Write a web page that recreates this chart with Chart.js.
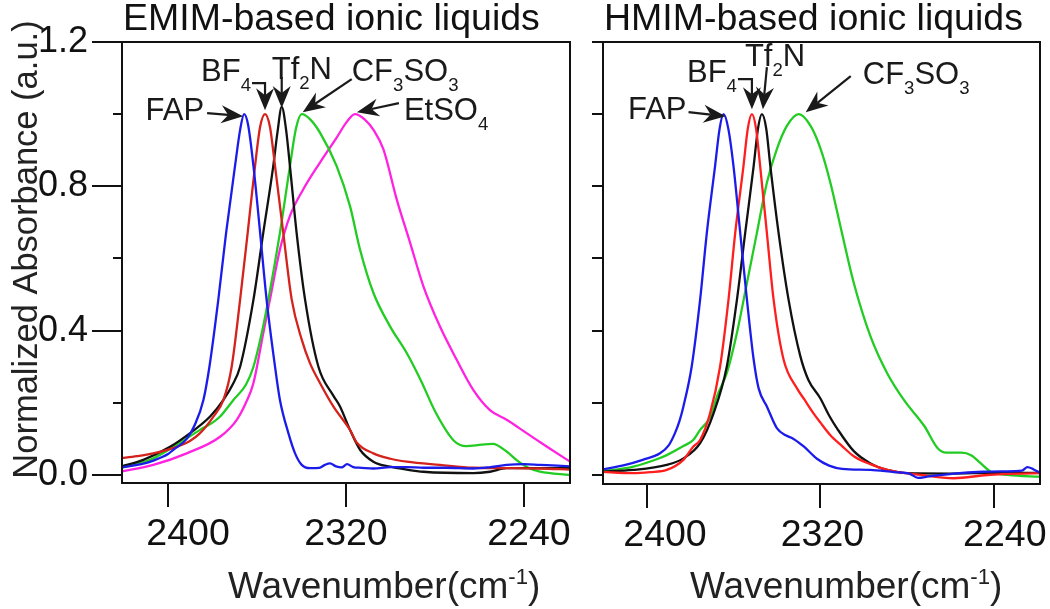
<!DOCTYPE html>
<html>
<head>
<meta charset="utf-8">
<script src="https://cdn.jsdelivr.net/npm/chart.js@4.4.0/dist/chart.umd.min.js"></script>
<style>
  html, body { margin: 0; padding: 0; background: #fff; }
  #wrap { position: relative; width: 1050px; height: 609px; overflow: hidden; }
  canvas { position: absolute; top: 0; }
  #emimChart { left: 0; }
  #hmimChart { left: 572px; }
</style>
</head>
<body>
<div id="wrap">
  <canvas id="emimChart" width="572" height="609"></canvas>
  <canvas id="hmimChart" width="478" height="609"></canvas>
</div>
<script>
// =======================================================
// Données
// =======================================================

const FONT = '"Liberation Sans", Arial, Helvetica, sans-serif';

const xTicks = [2400, 2320, 2240];
const xTickLabels = ['2400', '2320', '2240'];
const yTicks = [0, 0.2, 0.4, 0.6, 0.8, 1.0, 1.2];
const yTickLabels = ['0.0', '', '0.4', '', '0.8', '', '1.2'];

const emimTitle = 'EMIM-based ionic liquids';
const hmimTitle = 'HMIM-based ionic liquids';
const yAxisTitle = 'Normalized Absorbance (a.u.)';
const xAxisTitle = ['Wavenumber(cm', '^-1', ')'];

const anionLabels = {
    FAP: ['FAP'],
    BF4: ['BF', '_4'],
    Tf2N: ['Tf', '_2', 'N'],
    CF3SO3: ['CF', '_3', 'SO', '_3'],
    EtSO4: ['EtSO', '_4']
};

// ---- EMIM ----
const emimFapWn = [2421.5, 2418.6, 2412.0, 2406.6, 2400.0, 2397.6, 2391.6, 2387.9, 2384.1, 2381.4,
                   2377.4, 2373.9, 2369.9, 2367.5, 2365.8, 2364.0, 2361.6, 2358.6, 2355.7, 2351.9,
                   2349.7, 2345.9, 2342.9, 2339.9, 2336.2, 2332.0, 2329.5, 2327.2, 2324.5, 2322.0,
                   2319.5, 2316.8, 2313.0, 2307.7, 2300.0, 2292.7, 2285.0, 2275.0, 2262.8, 2255.0,
                   2247.8, 2240.0, 2232.8, 2225.0, 2219.3];
const emimFapAbs = [0.020, 0.023, 0.030, 0.040, 0.058, 0.070, 0.100, 0.140, 0.208, 0.300,
                    0.486, 0.671, 0.856, 0.960, 1.000, 0.970, 0.856, 0.671, 0.486, 0.300,
                    0.208, 0.116, 0.060, 0.028, 0.019, 0.020, 0.028, 0.032, 0.024, 0.021,
                    0.030, 0.022, 0.020, 0.018, 0.022, 0.022, 0.020, 0.020, 0.018, 0.022,
                    0.028, 0.030, 0.028, 0.026, 0.024];

const emimBf4Wn = [2421.6, 2414.0, 2406.6, 2396.1, 2390.0, 2385.6, 2379.6, 2375.1, 2371.4, 2367.6,
                   2364.2, 2360.9, 2358.6, 2356.4, 2354.2, 2351.9, 2348.2, 2344.4, 2339.9, 2336.2,
                   2331.7, 2325.7, 2318.2, 2315.2, 2307.7, 2300.0, 2292.7, 2277.8, 2262.8, 2247.8,
                   2232.8, 2219.3];
const emimBf4Abs = [0.046, 0.052, 0.060, 0.078, 0.095, 0.116, 0.162, 0.208, 0.300, 0.486,
                    0.671, 0.856, 0.965, 1.000, 0.965, 0.856, 0.671, 0.486, 0.375, 0.310,
                    0.255, 0.190, 0.125, 0.090, 0.060, 0.045, 0.037, 0.028, 0.020, 0.019,
                    0.018, 0.015];

const emimTf2nWn = [2421.6, 2411.1, 2399.1, 2390.1, 2381.1, 2375.1, 2371.0, 2367.6, 2361.6, 2357.2,
                    2352.7, 2350.8, 2348.9, 2347.0, 2345.2, 2342.2, 2338.4, 2332.4, 2325.7, 2322.7,
                    2318.2, 2313.7, 2307.7, 2300.2, 2292.7, 2285.2, 2262.8, 2255.3, 2247.8, 2235.0,
                    2219.3];
const emimTf2nAbs = [0.023, 0.042, 0.078, 0.116, 0.162, 0.208, 0.250, 0.300, 0.486, 0.671,
                     0.856, 0.950, 1.020, 0.960, 0.856, 0.671, 0.486, 0.300, 0.220, 0.190,
                     0.125, 0.070, 0.037, 0.023, 0.015, 0.009, 0.005, 0.009, 0.019, 0.019,
                     0.019];

const emimCf3so3Wn = [2421.6, 2408.1, 2397.6, 2385.6, 2380.0, 2376.6, 2370.6, 2365.0, 2361.6, 2358.0,
                      2354.9, 2349.7, 2345.2, 2342.5, 2339.9, 2336.0, 2331.7, 2324.2, 2318.2, 2313.7,
                      2307.7, 2300.2, 2292.7, 2286.5, 2279.5, 2271.5, 2266.0, 2259.0, 2254.0, 2247.8,
                      2243.0, 2238.0, 2232.8, 2219.3];
const emimCf3so3Abs = [0.019, 0.042, 0.078, 0.125, 0.145, 0.162, 0.208, 0.250, 0.300, 0.390,
                       0.486, 0.671, 0.856, 0.960, 1.000, 0.985, 0.949, 0.856, 0.745, 0.625,
                       0.505, 0.412, 0.338, 0.264, 0.171, 0.095, 0.080, 0.084, 0.086, 0.065,
                       0.040, 0.020, 0.009, 0.000];

const emimEtso4Wn = [2421.6, 2406.6, 2391.6, 2376.6, 2369.1, 2365.0, 2361.6, 2357.2, 2354.2, 2349.7,
                     2345.2, 2339.2, 2331.7, 2324.2, 2319.5, 2316.0, 2311.5, 2307.5, 2303.2, 2297.2,
                     2291.2, 2285.2, 2277.8, 2270.3, 2262.8, 2255.3, 2247.8, 2238.8, 2229.8, 2219.3];
const emimEtso4Abs = [0.009, 0.028, 0.060, 0.106, 0.153, 0.200, 0.255, 0.393, 0.486, 0.625,
                      0.718, 0.792, 0.866, 0.935, 0.980, 1.000, 0.985, 0.955, 0.903, 0.764,
                      0.644, 0.523, 0.412, 0.320, 0.236, 0.180, 0.153, 0.116, 0.079, 0.037];

// ---- HMIM ----
const hmimFapWn = [2421.7, 2410.0, 2402.0, 2394.0, 2390.0, 2387.1, 2385.0, 2383.2, 2379.4, 2375.5,
                   2372.4, 2368.6, 2366.5, 2364.7, 2362.5, 2360.1, 2357.0, 2353.9, 2350.8, 2348.5,
                   2344.7, 2340.1, 2336.0, 2332.4, 2327.7, 2321.6, 2316.0, 2310.0, 2297.0, 2286.0,
                   2279.0, 2275.0, 2270.0, 2258.4, 2245.0, 2235.2, 2227.0, 2224.5, 2221.8, 2218.8];
const hmimFapAbs = [0.014, 0.028, 0.042, 0.060, 0.082, 0.116, 0.150, 0.190, 0.300, 0.486,
                    0.671, 0.856, 0.960, 1.000, 0.960, 0.856, 0.671, 0.486, 0.320, 0.240,
                    0.190, 0.130, 0.110, 0.100, 0.079, 0.045, 0.026, 0.017, 0.014, 0.008,
                    0.004, -0.008, -0.004, 0.004, 0.009, 0.010, 0.012, 0.022, 0.016, 0.006];

const hmimBf4Wn = [2421.7, 2406.3, 2398.6, 2390.9, 2383.2, 2378.7, 2375.5, 2370.9, 2366.3, 2362.4,
                   2359.3, 2355.5, 2353.5, 2351.6, 2349.7, 2347.8, 2344.7, 2341.6, 2337.0, 2330.8,
                   2327.5, 2323.1, 2320.0, 2315.4, 2310.0, 2304.6, 2297.0, 2289.2, 2273.8, 2258.4,
                   2243.0, 2218.3];
const hmimBf4Abs = [0.009, 0.005, 0.008, 0.014, 0.042, 0.078, 0.097, 0.171, 0.300, 0.486,
                    0.671, 0.856, 0.960, 1.000, 0.960, 0.856, 0.671, 0.486, 0.320, 0.240,
                    0.210, 0.170, 0.145, 0.110, 0.080, 0.052, 0.030, 0.014, 0.000, -0.009,
                    0.000, 0.005];

const hmimTf2nWn = [2421.7, 2406.3, 2390.9, 2383.2, 2375.5, 2369.3, 2363.2, 2358.5, 2354.7, 2350.8,
                    2348.8, 2347.0, 2345.0, 2343.1, 2339.3, 2334.7, 2329.3, 2325.6, 2320.0, 2316.0,
                    2312.2, 2304.6, 2296.9, 2289.2, 2280.0, 2260.0, 2240.0, 2218.3];
const hmimTf2nAbs = [0.009, 0.014, 0.028, 0.046, 0.088, 0.171, 0.300, 0.486, 0.671, 0.856,
                     0.960, 1.000, 0.960, 0.856, 0.671, 0.486, 0.330, 0.264, 0.212, 0.165,
                     0.128, 0.066, 0.032, 0.014, 0.005, 0.004, 0.006, 0.006];

const hmimCf3so3Wn = [2421.7, 2406.3, 2394.0, 2390.9, 2383.2, 2378.7, 2375.5, 2370.9, 2367.6, 2363.2,
                      2358.5, 2353.9, 2349.3, 2344.7, 2340.1, 2335.4, 2330.0, 2324.6, 2320.0, 2315.4,
                      2310.8, 2304.6, 2296.9, 2289.2, 2281.5, 2272.0, 2266.0, 2262.0, 2255.0, 2250.5,
                      2246.0, 2241.4, 2233.7, 2218.3];
const hmimCf3so3Abs = [0.009, 0.023, 0.047, 0.055, 0.080, 0.097, 0.125, 0.160, 0.220, 0.282,
                       0.394, 0.532, 0.671, 0.810, 0.903, 0.968, 1.000, 0.968, 0.905, 0.810,
                       0.690, 0.532, 0.384, 0.282, 0.208, 0.135, 0.075, 0.062, 0.062, 0.055,
                       0.032, 0.009, 0.000, -0.005];


// =======================================================
// Outils de dessin
// =======================================================

function pts(wn, ab) {
    return wn.map((w, i) => ({ x: w, y: ab[i] }));
}

// un morceau "_x" = indice, "^x" = exposant
function drawRuns(ctx, x, y, parts, size, align) {
    const runs = parts.map(p => {
        if (p[0] === '_') return { t: p.slice(1), s: size * 0.6, dy: size * 0.33 };
        if (p[0] === '^') return { t: p.slice(1), s: size * 0.6, dy: -size * 0.38 };
        return { t: p, s: size, dy: 0 };
    });
    let total = 0;
    runs.forEach(r => { ctx.font = r.s + 'px ' + FONT; r.w = ctx.measureText(r.t).width; total += r.w; });
    let cx = align === 'right' ? x - total : (align === 'center' ? x - total / 2 : x);
    ctx.textAlign = 'left';
    ctx.textBaseline = 'alphabetic';
    runs.forEach(r => {
        ctx.font = r.s + 'px ' + FONT;
        ctx.fillText(r.t, cx, y + r.dy);
        cx += r.w;
    });
}

function arrowPath(ctx, points) {
    // points : [queue ... pointe]
    const n = points.length;
    const [tx, ty] = points[n - 1];
    const [px, py] = points[n - 2];
    const ang = Math.atan2(ty - py, tx - px);
    const c = Math.cos(ang), s = Math.sin(ang);
    const L = 22, W = 9, N = 15;
    ctx.beginPath();
    ctx.moveTo(points[0][0], points[0][1]);
    for (let i = 1; i < n - 1; i++) ctx.lineTo(points[i][0], points[i][1]);
    ctx.lineTo(tx - c * N, ty - s * N);
    ctx.stroke();
    ctx.beginPath();
    ctx.moveTo(tx, ty);
    ctx.lineTo(tx - L * c + W * s, ty - L * s - W * c);
    ctx.lineTo(tx - N * c, ty - N * s);
    ctx.lineTo(tx - L * c - W * s, ty - L * s + W * c);
    ctx.closePath();
    ctx.fill();
}

const decorPlugin = {
    id: 'decor',
    afterDraw(chart, args, o) {
        const { ctx, chartArea: a, scales: { x, y } } = chart;
        ctx.save();

        // cadre + graduations
        ctx.strokeStyle = '#111';
        ctx.lineWidth = 2;
        ctx.strokeRect(a.left, a.top, a.right - a.left, a.bottom - a.top);
        ctx.beginPath();
        xTicks.forEach(v => {
            const p = Math.round(x.getPixelForValue(v));
            ctx.moveTo(p, a.bottom);
            ctx.lineTo(p, a.bottom + o.xTickLen);
        });
        yTicks.forEach((v, i) => {
            const p = Math.round(y.getPixelForValue(v));
            const len = (o.yLabels && yTickLabels[i]) ? o.majorLen : o.minorLen;
            ctx.moveTo(a.left, p);
            ctx.lineTo(a.left - len, p);
        });
        ctx.stroke();

        // libellés de l'axe x (décalés comme sur l'original)
        ctx.fillStyle = '#111';
        xTicks.forEach((v, i) => {
            drawRuns(ctx, x.getPixelForValue(v) + o.xLabelShift[i], a.bottom + 62, [xTickLabels[i]], 37.5, 'center');
        });

        // titres
        drawRuns(ctx, a.left + 1, o.titleY, [o.title], 37.5, 'left');
        ctx.fillStyle = '#222';
        drawRuns(ctx, a.left + o.xTitleDx, o.xTitleY, xAxisTitle, 37, 'left');
        if (o.yTitle) {
            ctx.save();
            ctx.translate(o.yTitleX, (a.top + a.bottom) / 2 - 13);
            ctx.rotate(-Math.PI / 2);
            ctx.font = '34.5px ' + FONT;
            ctx.textAlign = 'center';
            ctx.textBaseline = 'alphabetic';
            ctx.fillText(o.yTitle, 0, 0);
            ctx.restore();
        }

        // étiquettes des anions avec flèches
        ctx.fillStyle = '#1a1a1a';
        ctx.strokeStyle = '#1a1a1a';
        ctx.lineWidth = 2.2;
        o.notes.forEach(n => {
            const ds = chart.data.datasets[n.series].data;
            const peak = ds.reduce((m, p) => (p.y > m.y ? p : m), ds[0]);
            const tx = x.getPixelForValue(peak.x) + n.tip[0];
            const ty = y.getPixelForValue(peak.y) + n.tip[1];
            const path = n.path.map(([dx, dy]) => [tx + dx, ty + dy]);
            path.push([tx, ty]);
            arrowPath(ctx, path);
            drawRuns(ctx, tx + n.text[0], ty + n.text[1], anionLabels[n.label], 31, n.align);
        });

        ctx.restore();
    }
};

function lineSet(wn, ab, color) {
    return {
        data: pts(wn, ab),
        borderColor: color,
        borderWidth: 2.3,
        pointRadius: 0,
        fill: false,
        cubicInterpolationMode: 'monotone'
    };
}

function noPad(s) {
    s.paddingLeft = 0;
    s.paddingRight = 0;
    s.paddingTop = 0;
    s.paddingBottom = 0;
}

function makePanel(id, cfg) {
    new Chart(document.getElementById(id), {
        type: 'line',
        data: { datasets: cfg.datasets },
        options: {
            responsive: false,
            animation: false,
            devicePixelRatio: 1,
            events: [],
            layout: { padding: { top: 42, right: cfg.padRight, left: 0, bottom: 0 } },
            plugins: {
                legend: { display: false },
                tooltip: { enabled: false },
                decor: cfg.decor
            },
            scales: {
                x: {
                    type: 'linear',
                    reverse: true,
                    min: cfg.xMin,
                    max: cfg.xMax,
                    grid: { display: false, drawTicks: false },
                    border: { display: false },
                    afterBuildTicks: s => { s.ticks = xTicks.map(v => ({ value: v })); },
                    afterFit: s => { s.height = cfg.xHeight; noPad(s); },
                    ticks: { display: false }
                },
                y: {
                    type: 'linear',
                    min: cfg.yMin,
                    max: 1.2,
                    grid: { display: false, drawTicks: false },
                    border: { display: false },
                    afterBuildTicks: s => { s.ticks = yTicks.map(v => ({ value: v })); },
                    afterFit: s => { s.width = cfg.yWidth; noPad(s); },
                    ticks: {
                        display: cfg.decor.yLabels,
                        padding: 34,
                        color: '#111',
                        font: { family: FONT, size: 36 },
                        callback: (v, i) => yTickLabels[i]
                    }
                }
            }
        },
        plugins: [decorPlugin]
    });
}

// =======================================================
// Panneau EMIM
// =======================================================

makePanel('emimChart', {
    padRight: 2,
    xMin: 2219.3, xMax: 2420.7,
    yMin: -0.0222,
    xHeight: 126,
    yWidth: 122,
    datasets: [
        lineSet(emimFapWn, emimFapAbs, '#1c1cea'),
        lineSet(emimBf4Wn, emimBf4Abs, '#d4221c'),
        lineSet(emimTf2nWn, emimTf2nAbs, '#111111'),
        lineSet(emimCf3so3Wn, emimCf3so3Abs, '#22cc22'),
        lineSet(emimEtso4Wn, emimEtso4Abs, '#ff22e0')
    ],
    decor: {
        title: emimTitle, titleY: 30,
        xTitleDx: 106, xTitleY: 598,
        xLabelShift: [20, 0, 5],
        xTickLen: 24, majorLen: 30, minorLen: 9,
        yLabels: true,
        yTitle: yAxisTitle, yTitleX: 37,
        notes: [
            { label: 'FAP', series: 0, tip: [-1, 2], path: [[-36, -3]], text: [-39, 4], align: 'right' },
            { label: 'BF4', series: 1, tip: [0, -4], path: [[-13, -27], [0, -27]], text: [-14, -29], align: 'right' },
            { label: 'Tf2N', series: 2, tip: [0, 1], path: [[0, -31]], text: [-10, -29], align: 'left' },
            { label: 'CF3SO3', series: 3, tip: [1, -2], path: [[49, -33]], text: [49, -31], align: 'left' },
            { label: 'EtSO4', series: 4, tip: [2, -2], path: [[42, -9]], text: [47, 8], align: 'left' }
        ]
    }
});

// =======================================================
// Panneau HMIM
// =======================================================

makePanel('hmimChart', {
    padRight: 10,
    xMin: 2218.7, xMax: 2420.3,
    yMin: -0.025,
    xHeight: 125,
    yWidth: 31,
    datasets: [
        lineSet(hmimFapWn, hmimFapAbs, '#1c1cea'),
        lineSet(hmimBf4Wn, hmimBf4Abs, '#ff1e1e'),
        lineSet(hmimTf2nWn, hmimTf2nAbs, '#111111'),
        lineSet(hmimCf3so3Wn, hmimCf3so3Abs, '#22cc22')
    ],
    decor: {
        title: hmimTitle, titleY: 30,
        xTitleDx: 87, xTitleY: 598,
        xLabelShift: [18, 2, 11],
        xTickLen: 24, majorLen: 11, minorLen: 11,
        yLabels: false,
        yTitle: null,
        notes: [
            { label: 'FAP', series: 0, tip: [2, 2], path: [[-37, -4]], text: [-39, 3], align: 'right' },
            { label: 'BF4', series: 1, tip: [0, -5], path: [[-14, -30], [0, -30]], text: [-15, -27], align: 'right' },
            { label: 'Tf2N', series: 2, tip: [1, -5], path: [[4, -42]], text: [-18, -43], align: 'left' },
            { label: 'CF3SO3', series: 3, tip: [7, -2], path: [[45, -36]], text: [57, -28], align: 'left' }
        ]
    }
});
</script>
</body>
</html>
